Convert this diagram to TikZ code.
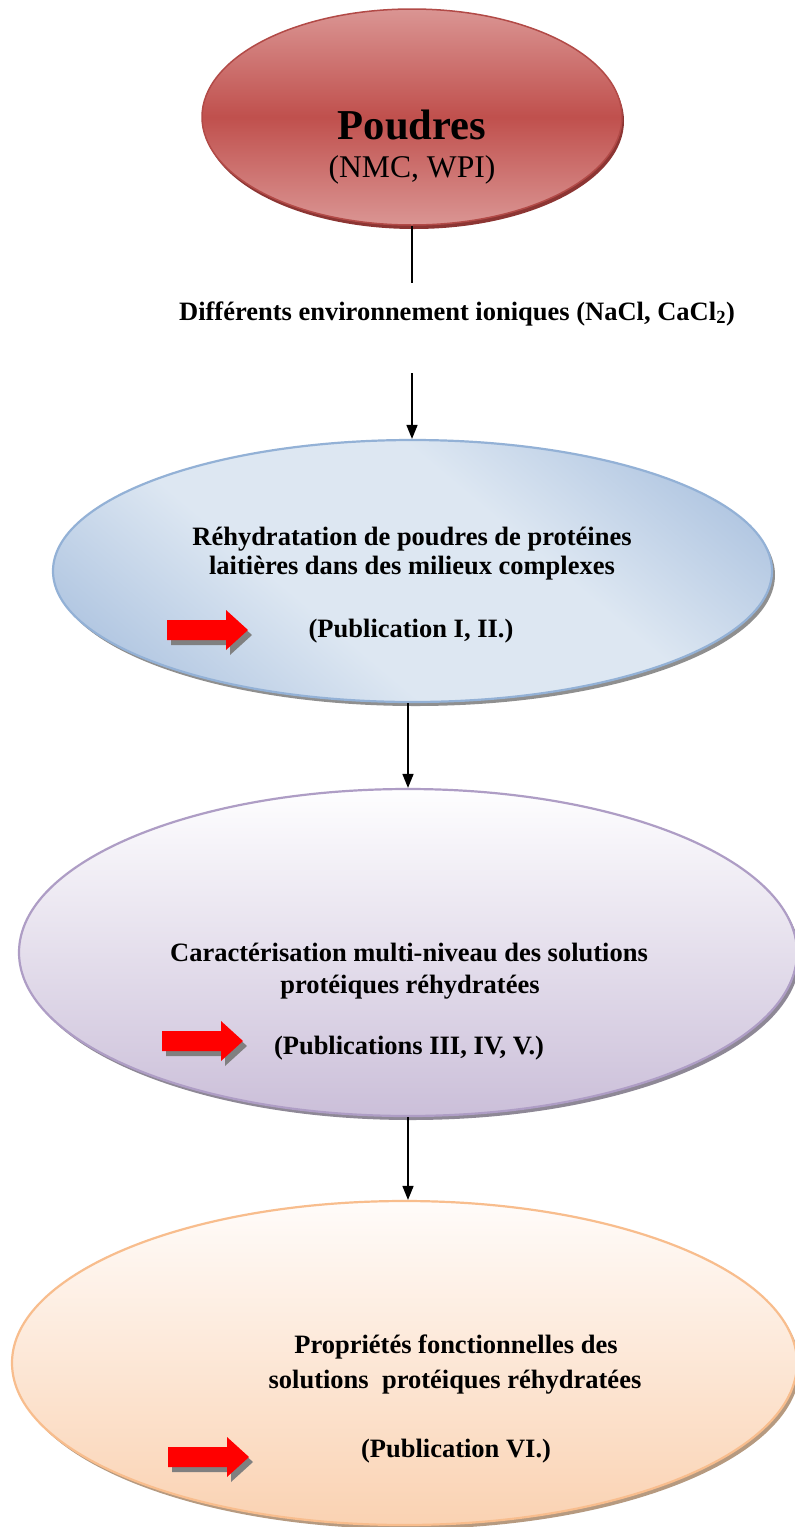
\documentclass[tikz,border=0pt]{standalone}
\usepackage{fontspec}
\setmainfont{Liberation Serif}
\usetikzlibrary{shapes.geometric,shadows,arrows.meta}
\definecolor{redL}{HTML}{DA9593}
\definecolor{redM}{HTML}{C0504D}
\definecolor{redB}{HTML}{B24A47}
\definecolor{redS}{HTML}{8C3533}
\definecolor{bluL}{HTML}{DDE7F2}
\definecolor{bluD}{HTML}{A6BEDD}
\definecolor{bluB}{HTML}{93B1D6}
\definecolor{bluS}{HTML}{8F8F8F}
\definecolor{purT}{HTML}{FEFEFF}
\definecolor{purB}{HTML}{CBBFD9}
\definecolor{purE}{HTML}{AE9DC5}
\definecolor{purS}{HTML}{8E8896}
\definecolor{oraT}{HTML}{FFFCFA}
\definecolor{oraB}{HTML}{FAD2B2}
\definecolor{oraE}{HTML}{F8BD8D}
\definecolor{oraS}{HTML}{B69A80}
\definecolor{arrS}{HTML}{808080}
\pgfdeclareverticalshading{bluesh}{100bp}{color(0bp)=(bluD); color(18bp)=(bluD); color(40bp)=(bluL); color(60bp)=(bluL); color(82bp)=(bluD); color(100bp)=(bluD)}
\begin{document}
\begin{tikzpicture}[x=1pt,y=-1pt,
  ell/.style={ellipse, inner sep=0pt},
  redell/.style={ell, draw=redB, line width=1.5pt, top color=redL, bottom color=redL, middle color=redM,
    drop shadow={shadow xshift=2pt, shadow yshift=-4pt, fill=redS, opacity=1}},
  bluell/.style={ell, draw=bluB, line width=2.2pt, shade, shading=bluesh, shading angle=-40,
    drop shadow={shadow xshift=3pt, shadow yshift=-4pt, fill=bluS, opacity=1}},
  purell/.style={ell, draw=purE, line width=2.2pt, top color=purT, bottom color=purB,
    drop shadow={shadow xshift=3pt, shadow yshift=-4pt, fill=purS, opacity=1}},
  oraell/.style={ell, draw=oraE, line width=2.2pt, top color=oraT, bottom color=oraB,
    drop shadow={shadow xshift=3pt, shadow yshift=-4pt, fill=oraS, opacity=1}},
  txt/.style={font=\fontsize{26.5}{30}\selectfont\bfseries, inner sep=0pt, anchor=base},
  conn/.style={line width=1.5pt, draw=black},
  arr/.style={conn, -{Triangle[length=14pt,width=11pt]}},
  redarrow/.pic={
    \fill[arrS] (4,-5) -- (63,-5) -- (63,-15) -- (85,5) -- (63,25) -- (63,15) -- (4,15) -- cycle;
    \fill[red] (0,-10) -- (59,-10) -- (59,-20) -- (81,0) -- (59,20) -- (59,10) -- (0,10) -- cycle;
  }
]
\useasboundingbox (0,0) rectangle (795,1527);
\fill[white] (0,0) rectangle (795,1527);

% ellipses
\node[redell, minimum width=420pt, minimum height=216pt] (poudres) at (412,117) {};
\node[bluell, minimum width=719pt, minimum height=262pt] (rehyd) at (412.5,571) {};
\node[purell, minimum width=778pt, minimum height=327pt] (carac) at (408,952.5) {};
\node[oraell, minimum width=785pt, minimum height=324pt] (propr) at (404.5,1363) {};

% texts in red ellipse
\node[anchor=base, inner sep=0pt, font=\fontsize{42.6}{46}\selectfont\bfseries] (poudrestxt) at (412,139) {Poudres};
\node[anchor=base, inner sep=0pt, font=\fontsize{31.6}{35}\selectfont] (nmc) at (412,177) {(NMC, WPI)};

% ionic environment label
\node[txt] (iono) at (457,320) {Différents environnement ioniques (NaCl, CaCl\textsubscript{2})};
\coordinate (c1) at (412,283);
\coordinate (c2) at (412,373);

% blue texts
\node[txt] (b1) at (412,545) {Réhydratation de poudres de protéines};
\node[txt] (b2) at (412,574) {laitières dans des milieux complexes};
\node[txt] (b3) at (411,637) {(Publication I, II.)};

% purple texts
\node[txt] (p1) at (409,961) {Caractérisation multi-niveau des solutions};
\node[txt] (p2) at (410,993) {protéiques réhydratées};
\node[txt] (p3) at (409,1054) {(Publications III, IV, V.)};

% orange texts
\node[txt] (o1) at (456,1353) {Propriétés fonctionnelles des};
\node[txt] (o2) at (455,1388) {solutions~ protéiques réhydratées};
\node[txt] (o3) at (456,1457) {(Publication VI.)};

% red arrows
\pic at (167,630) {redarrow};
\pic at (162,1041) {redarrow};
\pic at (168,1457) {redarrow};

% connectors
\draw[conn] (poudres.south) -- (c1);
\draw[arr] (c2) -- (c2 |- rehyd.north);
\draw[arr] (carac.north |- rehyd.south) -- (carac.north);
\draw[arr] (carac.south) -- (carac.south |- propr.north);
\end{tikzpicture}
\end{document}
